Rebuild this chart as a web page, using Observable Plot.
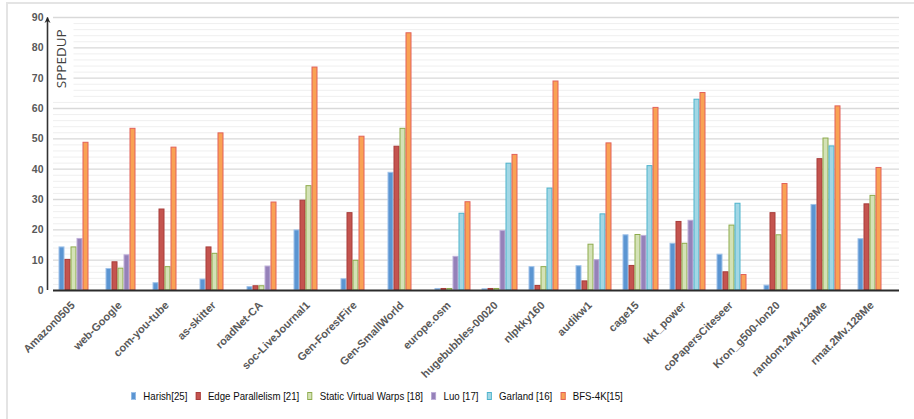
<!DOCTYPE html>
<html>
<head>
<meta charset="utf-8">
<script src="https://cdn.jsdelivr.net/npm/d3@7"></script>
<script src="https://cdn.jsdelivr.net/npm/@observablehq/plot@0.6"></script>
<style>
  html, body { margin: 0; padding: 0; background: #fff; }
  #wrap { position: relative; width: 914px; height: 419px; overflow: hidden; }
  #frame { position: absolute; left: 6px; top: 2px; width: 940px; height: 440px;
           border-left: 2px solid #e4e4e4; border-top: 2px solid #e4e4e4; }
  #chart { position: absolute; left: 0; top: 0; }
  #legend { position: absolute; left: 131px; top: 389px; display: flex; align-items: center;
            transform: scaleX(0.82); transform-origin: 0 50%;
            font-family: "Liberation Sans", Arial, sans-serif;
            font-size: 11.8px; color: #0d0d0d; white-space: nowrap; }
  #legend .item { display: flex; align-items: center; margin-right: 10px; }
  #legend .sw { width: 6px; height: 8px; margin-right: 9px; box-sizing: border-box; border: 1px solid; }
</style>
</head>
<body>
<div id="wrap">
  <div id="frame"></div>
  <div id="chart"></div>
  <div id="legend"></div>
</div>
<script>
// Graph data sets on the x axis
const categories = [
  "Amazon0505", "web-Google", "com-you-tube", "as-skitter", "roadNet-CA",
  "soc-LiveJournal1", "Gen-ForestFire", "Gen-SmallWorld", "europe.osm",
  "hugebubbles-00020", "nlpkky160", "audikw1", "cage15", "kkt_power",
  "coPapersCiteseer", "Kron_g500-lon20", "random.2Mv.128Me", "rmat.2Mv.128Me"
];

// Speedup of each implementation per data set (null = not reported)
const harish  = [14.2, 7.1, 2.4, 3.6, 1.1, 19.8, 3.7, 38.8, 0.5, 0.4, 7.7, 8.0, 18.2, 15.4, 11.8, 1.6, 28.2, 16.9];
const edgePar = [10.1, 9.3, 26.7, 14.2, 1.4, 29.6, 25.5, 47.4, 0.5, 0.5, 1.5, 3.0, 8.1, 22.6, 6.0, 25.5, 43.3, 28.4];
const svw     = [14.2, 7.2, 7.7, 12.1, 1.4, 34.4, 9.8, 53.3, 0.5, 0.5, 7.7, 15.1, 18.3, 15.4, 21.4, 18.2, 50.1, 31.2];
const luo     = [17.0, 11.6, null, null, 7.9, null, null, null, 11.1, 19.6, null, 10.0, 18.0, 23.0, null, null, null, null];
const garland = [null, null, null, null, null, null, null, null, 25.3, 41.8, 33.6, 25.1, 41.0, 62.9, 28.6, null, 47.5, null];
const bfs4k   = [48.7, 53.3, 47.1, 51.8, 29.0, 73.5, 50.7, 84.8, 29.1, 44.7, 68.9, 48.5, 60.2, 65.1, 5.1, 35.1, 60.7, 40.4];

const seriesNames = ["Harish[25]", "Edge Parallelism [21]", "Static Virtual Warps [18]", "Luo [17]", "Garland [16]", "BFS-4K[15]"];
const seriesValues = [harish, edgePar, svw, luo, garland, bfs4k];
const fills   = ["#5b95d2", "#c4544f", "#d4e2b6", "#9581b9", "#a2d7e5", "#f9a254"];
const strokes = ["#9fc2e9", "#a83d3b", "#8dab4c", "#bfb0d9", "#4db3cc", "#e2615a"];

const yTicks = [0, 10, 20, 30, 40, 50, 60, 70, 80, 90];

// Bars of one data set sit side by side; reported series only
const rows = [];
categories.forEach((cat, i) => {
  let slot = 0;
  seriesValues.forEach((vals, s) => {
    if (vals[i] != null) rows.push({cat, series: s, slot: slot++, value: vals[i]});
  });
});

const minor = d3.range(2, 90, 2).filter(v => v % 10 !== 0);

const plot = Plot.plot({
  width: 914,
  height: 380,
  marginLeft: 47.5,
  marginRight: 9,
  marginTop: 17,
  marginBottom: 90,
  style: {background: "transparent", overflow: "visible"},
  fx: {domain: categories, padding: 0},
  x: {domain: d3.range(6), paddingInner: 0.03, paddingOuter: 0.92, axis: null},
  y: {domain: [0, 90]},
  marks: [
    Plot.ruleY(minor, {stroke: "#efefef", strokeWidth: 1}),
    Plot.ruleY(yTicks.slice(1), {stroke: "#d9d9d9", strokeWidth: 1.4}),
    ...seriesValues.map((_, s) =>
      Plot.barY(rows.filter(d => d.series === s), {
        fx: "cat", x: "slot", y: "value",
        fill: fills[s], stroke: strokes[s], strokeWidth: 1, insetLeft: 0.5, insetRight: 0.5
      })
    ),
    Plot.ruleY([0], {stroke: "#2b2b2b", strokeWidth: 1.8}),
    Plot.axisY({ticks: yTicks, tickSize: 0, tickPadding: 10, label: null,
                fontSize: 10.5, fontWeight: "bold", fill: "#595959"}),
    Plot.axisFx({anchor: "bottom", tickRotate: -45, tickSize: 0, tickPadding: 13, dx: -4, label: null,
                 fontSize: 11, fontWeight: "bold", fill: "#595959"})
  ]
});
plot.style.fontFamily = "'Liberation Sans', Arial, sans-serif";
document.getElementById("chart").appendChild(plot);

// Vertical axis with arrowhead and its title
const ys = plot.scale("y");
const y = d3.scaleLinear(ys.domain, ys.range);
const svg = d3.select(plot);
const defs = svg.append("defs");
defs.append("marker").attr("id", "arrowhead").attr("viewBox", "0 0 10 10")
  .attr("refX", 9).attr("refY", 5).attr("markerWidth", 6).attr("markerHeight", 9)
  .attr("markerUnits", "userSpaceOnUse").attr("orient", "auto")
  .append("path").attr("d", "M0,0 L10,5 L0,10 L3,5 Z").attr("fill", "#222");
svg.append("rect").attr("x", 48.5).attr("y", y(89.2)).attr("width", 25).attr("height", y(63.5) - y(89.2))
  .attr("fill", "#fff");
svg.append("line").attr("x1", 47.5).attr("x2", 47.5).attr("y1", y(0)).attr("y2", y(90) + 0.5)
  .attr("stroke", "#333").attr("stroke-width", 1.6).attr("marker-end", "url(#arrowhead)");
svg.append("text")
  .attr("transform", `translate(65.5,${(y(88) + y(64.5)) / 2}) rotate(-90)`)
  .attr("text-anchor", "middle")
  .attr("font-family", "'Open Sans', sans-serif").attr("font-size", 13.5)
  .attr("fill", "#404040").text("SPPEDUP");

// Legend
const legend = d3.select("#legend");
seriesNames.forEach((name, s) => {
  const it = legend.append("div").attr("class", "item");
  it.append("div").attr("class", "sw").style("background", fills[s]).style("border-color", strokes[s]);
  it.append("span").text(name);
});
</script>
</body>
</html>
